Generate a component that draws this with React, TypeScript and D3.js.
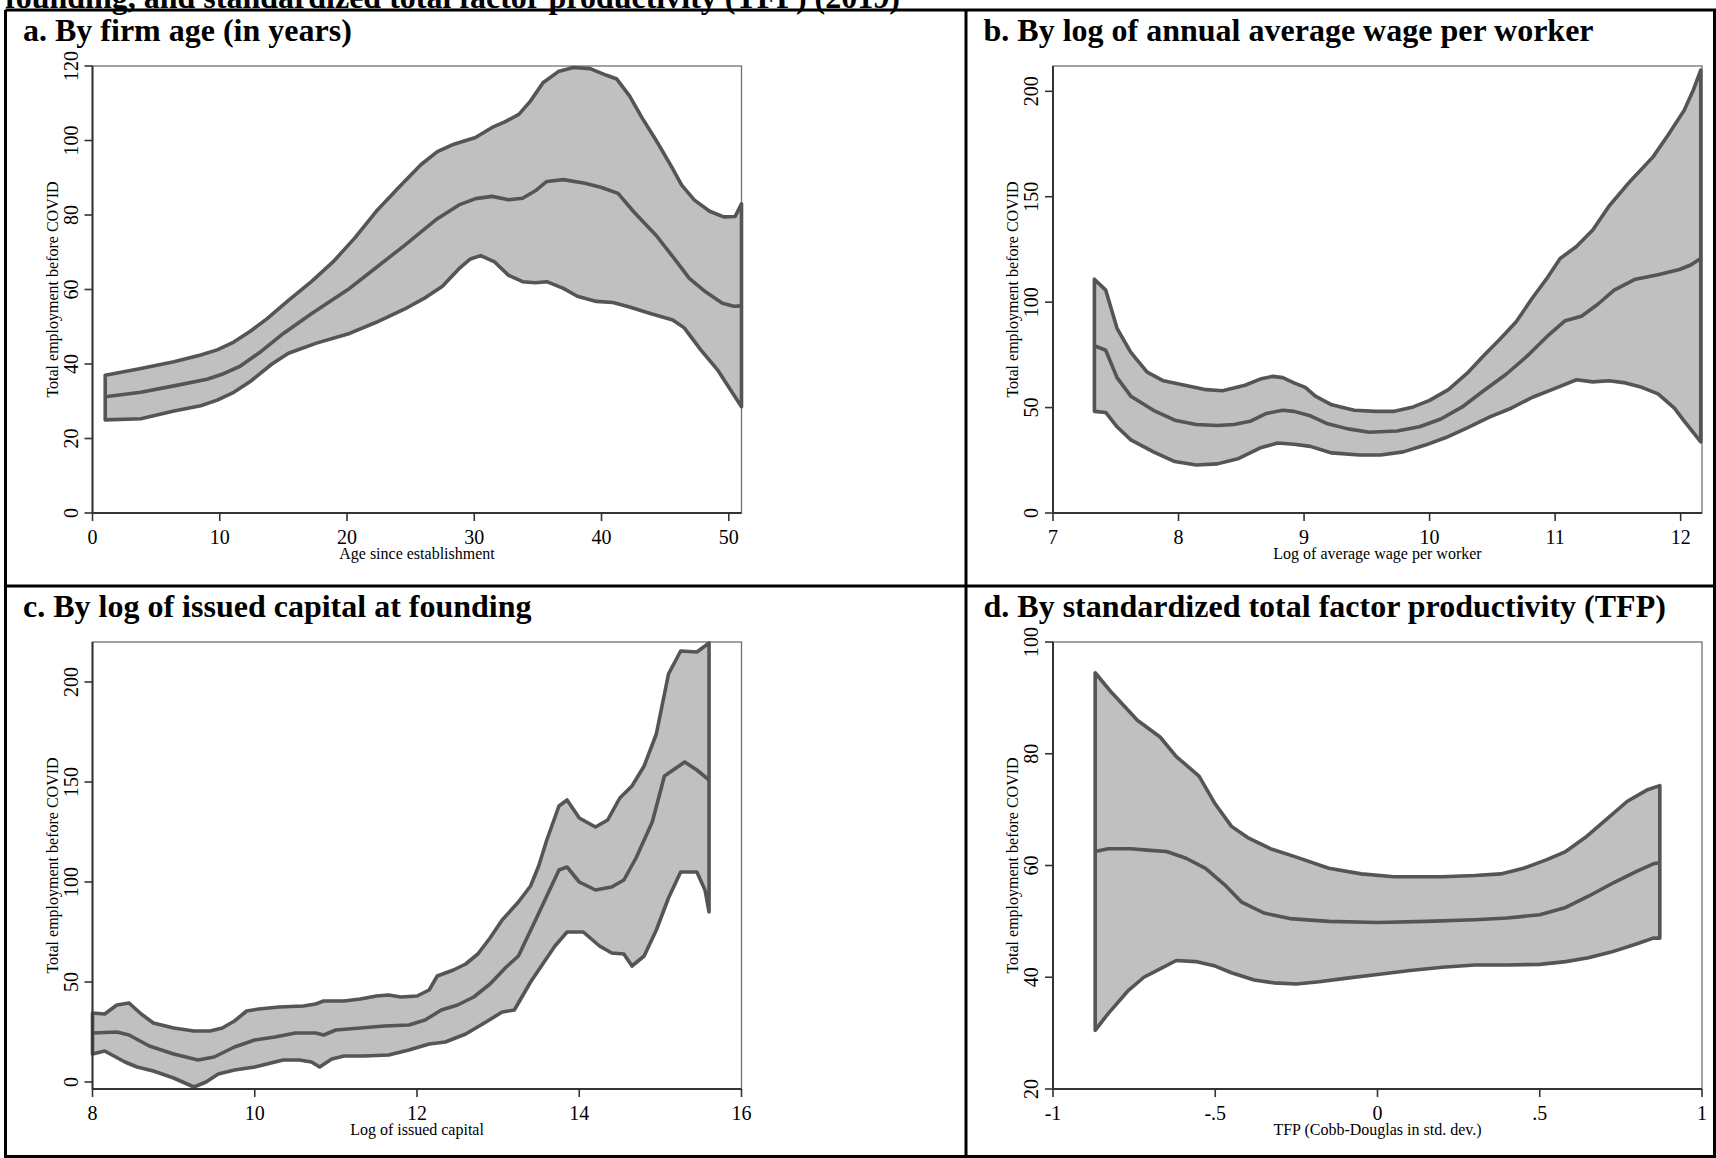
import React from 'react';
import * as d3 from 'd3';

type Pt = [number, number];

const topCaption = 'founding, and standardized total factor productivity (TFP) (2019)';
const yTitle = 'Total employment before COVID';

// ---- Panel a: firm age ----
const ageUpper: Pt[] = [[1,37],[3.8,38.8],[6.4,40.6],[8.5,42.4],[9.8,43.8],[11.1,45.9],[12.4,48.8],[13.7,52.1],[15.4,57.1],[17.2,62.1],[18.9,67.4],[20.6,73.8],[22.3,81],[24.1,87.5],[25.8,93.5],[27.1,97],[28.4,99],[30.1,100.8],[31.4,103.5],[32.4,105],[33.5,107],[34.4,110.5],[35.4,115.5],[36.6,118.5],[37.8,119.6],[39.1,119.3],[40.4,117.5],[41.2,116.5],[42.2,112],[43.2,106],[44.3,100],[45.5,93],[46.3,88],[47.3,84],[48.5,81],[49.6,79.5],[50.5,79.6],[51,83]];
const ageMid: Pt[] = [[1,31.2],[3.8,32.4],[6.8,34.4],[9,35.9],[10.3,37.4],[11.6,39.4],[13.3,43.5],[15,48.2],[17.2,53.5],[20.2,60.3],[22.3,65.9],[24.5,71.8],[27.1,79],[28.8,82.7],[30.1,84.4],[31.4,85],[32.7,84.1],[33.8,84.5],[34.8,86.5],[35.7,89],[37,89.5],[38.7,88.5],[40,87.4],[41.3,85.8],[42.6,80.6],[44.3,74.5],[45.6,68.8],[46.9,63],[48.2,59.3],[49.5,56.3],[50.4,55.5],[51,55.6]];
const ageLower: Pt[] = [[1,25],[3.8,25.3],[6.4,27.4],[8.5,28.8],[9.8,30.3],[11.1,32.4],[12.4,35.3],[14.1,40],[15.4,42.9],[17.6,45.6],[20.2,48.2],[22.3,51.2],[24.5,54.7],[26.2,57.9],[27.5,60.9],[28.8,65.6],[29.7,68.2],[30.5,69.1],[31.6,67.4],[32.7,63.8],[33.8,62.1],[34.8,61.8],[35.7,62.1],[37,60.3],[38.1,58.2],[39.6,56.8],[40.9,56.5],[42.2,55.3],[43.9,53.5],[45.6,51.8],[46.5,49.7],[47.8,43.8],[49.1,38.5],[51,28.5]];

// ---- Panel b: log wage ----
const wageUpper: Pt[] = [[7.33,110.9],[7.42,105.7],[7.51,87.6],[7.62,76.2],[7.75,66.8],[7.88,62.7],[8.05,60.6],[8.22,58.5],[8.35,58],[8.53,60.6],[8.66,63.7],[8.75,64.8],[8.83,64.2],[8.92,61.7],[9.01,59.6],[9.09,55.4],[9.22,51.3],[9.4,48.7],[9.57,48.2],[9.72,48.2],[9.87,50.3],[10,53.4],[10.15,58.5],[10.3,66.3],[10.43,74.6],[10.56,82.4],[10.69,90.7],[10.82,102.1],[10.93,110.9],[11.04,120.7],[11.17,126.4],[11.3,134.2],[11.43,145.6],[11.6,157.5],[11.78,168.9],[11.9,179.3],[12.03,191.2],[12.1,200.5],[12.16,210]];
const wageMid: Pt[] = [[7.33,79.3],[7.42,77.2],[7.51,64.2],[7.62,55.4],[7.8,48.7],[7.97,44],[8.14,42],[8.31,41.5],[8.44,42],[8.57,43.5],[8.7,47.2],[8.83,48.7],[8.92,48.2],[9.05,46.1],[9.18,42.5],[9.35,39.9],[9.52,38.3],[9.74,38.9],[9.92,40.9],[10.09,44.6],[10.26,50.3],[10.43,58],[10.61,65.8],[10.78,74.6],[10.95,84.5],[11.08,91.2],[11.21,93.3],[11.34,99],[11.47,105.7],[11.64,110.9],[11.82,113],[11.99,115.5],[12.08,117.6],[12.16,120.7]];
const wageLower: Pt[] = [[7.33,48.2],[7.42,47.7],[7.51,40.9],[7.62,34.7],[7.8,29],[7.97,24.4],[8.14,22.8],[8.31,23.3],[8.48,25.9],[8.66,31.1],[8.79,33.2],[8.92,32.6],[9.05,31.6],[9.22,28.5],[9.44,27.5],[9.61,27.5],[9.79,29],[9.96,32.1],[10.13,35.8],[10.3,40.4],[10.48,45.6],[10.65,49.7],[10.82,54.9],[11,59.1],[11.17,63.2],[11.3,62.2],[11.43,62.7],[11.56,61.7],[11.69,59.6],[11.82,56.5],[11.95,49.7],[12.03,43.5],[12.16,33.7]];

// ---- Panel c: log issued capital ----
const capUpper: Pt[] = [[8,34.5],[8.15,34],[8.3,38.5],[8.45,39.5],[8.6,34],[8.75,29.5],[9,27],[9.25,25.5],[9.45,25.5],[9.6,27],[9.75,30.5],[9.9,35.5],[10.05,36.5],[10.3,37.5],[10.6,38],[10.75,39],[10.85,40.5],[11.1,40.5],[11.3,41.5],[11.5,43],[11.65,43.5],[11.8,42.5],[12,43],[12.15,46],[12.25,53],[12.45,56],[12.6,59],[12.75,64],[12.9,72],[13.05,81],[13.25,90],[13.4,98],[13.5,108],[13.6,121],[13.75,138],[13.85,141],[14,132],[14.2,127.5],[14.35,131],[14.5,142],[14.65,148],[14.8,158],[14.95,174],[15.1,204],[15.25,215.5],[15.45,215],[15.6,219.5]];
const capMid: Pt[] = [[8,24.5],[8.3,25],[8.45,23.5],[8.7,18],[9,14],[9.3,11],[9.5,12.5],[9.75,17.5],[10,21],[10.25,22.5],[10.5,24.5],[10.75,24.5],[10.85,23.5],[11,26],[11.3,27],[11.6,28],[11.9,28.5],[12.1,31],[12.3,36],[12.5,38.5],[12.7,42.5],[12.9,49],[13.1,57.5],[13.25,63],[13.45,80],[13.6,93],[13.75,106],[13.85,107.5],[14,100],[14.2,96],[14.4,97.5],[14.55,101],[14.7,112],[14.9,130],[15.05,153],[15.3,160],[15.45,156],[15.6,151]];
const capLower: Pt[] = [[8,14],[8.15,15.5],[8.4,10],[8.55,7.5],[8.75,5.5],[9,2],[9.25,-2.5],[9.4,0],[9.55,4],[9.75,6],[10,7.5],[10.2,9.5],[10.35,11],[10.55,11],[10.7,10],[10.8,7.5],[10.95,11.5],[11.1,13],[11.35,13],[11.65,13.5],[11.9,16],[12.15,19],[12.35,20],[12.6,24],[12.85,30],[13.05,35],[13.2,36],[13.4,50],[13.55,59],[13.7,68],[13.85,75],[14.05,75],[14.25,68],[14.4,64.5],[14.55,64],[14.65,58],[14.8,63],[14.95,76],[15.1,92],[15.25,105],[15.45,105],[15.55,96],[15.6,85]];

// ---- Panel d: TFP ----
const tfpUpper: Pt[] = [[-0.87,94.5],[-0.82,91],[-0.74,86],[-0.67,83],[-0.62,79.5],[-0.55,76],[-0.5,71],[-0.45,67],[-0.4,65],[-0.33,63],[-0.25,61.5],[-0.15,59.5],[-0.05,58.5],[0.05,58],[0.2,58],[0.3,58.2],[0.38,58.5],[0.45,59.5],[0.52,61],[0.58,62.5],[0.64,65],[0.7,68],[0.77,71.5],[0.83,73.5],[0.87,74.3]];
const tfpMid: Pt[] = [[-0.87,62.5],[-0.83,63],[-0.76,63],[-0.7,62.7],[-0.65,62.5],[-0.59,61.3],[-0.53,59.5],[-0.47,56.5],[-0.42,53.5],[-0.35,51.5],[-0.27,50.5],[-0.15,50],[0,49.8],[0.15,50],[0.3,50.3],[0.4,50.6],[0.5,51.2],[0.58,52.5],[0.65,54.5],[0.73,57],[0.8,59],[0.85,60.3],[0.87,60.5]];
const tfpLower: Pt[] = [[-0.87,30.5],[-0.83,33.5],[-0.77,37.5],[-0.72,40],[-0.67,41.5],[-0.62,43],[-0.56,42.8],[-0.5,42],[-0.45,40.8],[-0.38,39.5],[-0.32,39],[-0.25,38.8],[-0.18,39.2],[-0.1,39.8],[0,40.5],[0.1,41.2],[0.2,41.8],[0.3,42.2],[0.4,42.2],[0.5,42.3],[0.58,42.8],[0.65,43.5],[0.72,44.5],[0.8,46],[0.85,47],[0.87,47]];

const ticksAgeX = [0, 10, 20, 30, 40, 50];
const ticksAgeY = [0, 20, 40, 60, 80, 100, 120];
const ticksWageX = [7, 8, 9, 10, 11, 12];
const ticksWageY = [0, 50, 100, 150, 200];
const ticksCapX = [8, 10, 12, 14, 16];
const ticksCapY = [0, 50, 100, 150, 200];
const ticksTfpX = [-1, -0.5, 0, 0.5, 1];
const ticksTfpY = [20, 40, 60, 80, 100];
const fmtStata = (v: number) => {
  const s = String(v);
  return s.replace(/^0\./, '.').replace(/^-0\./, '-.');
};

interface PanelProps {
  ox: number; oy: number;
  title: string; xTitle: string;
  xDomain: [number, number]; yDomain: [number, number];
  xTicks: number[]; yTicks: number[];
  upper: Pt[]; mid: Pt[]; lower: Pt[];
}

const FONT = '"Liberation Serif", "Times New Roman", Times, serif';
const BAND_FILL = '#c0c0c0';
const LINE = '#555555';

function Panel(p: PanelProps) {
  const left = p.ox + 87;
  const right = p.ox + 736;
  const top = p.oy + 56;
  const bottom = p.oy + 503;
  const x = d3.scaleLinear().domain(p.xDomain).range([left, right]);
  const y = d3.scaleLinear().domain(p.yDomain).range([bottom, top]);
  const line = d3.line<Pt>().x(d => x(d[0])).y(d => y(d[1])).curve(d3.curveLinear);
  const bandPts = [...p.upper, ...p.lower.slice().reverse()];
  const bandPath = (line(bandPts) || '') + 'Z';
  const midPath = line(p.mid) || '';
  return (
    <g>
      <text x={p.ox + 17.5} y={p.oy + 31} fontFamily={FONT} fontWeight="bold" fontSize={32} fill="#000">{p.title}</text>
      {/* frame */}
      <rect x={left} y={top} width={right - left} height={bottom - top} fill="none" stroke="#707070" strokeWidth={1.3} />
      {/* band */}
      <path d={bandPath} fill={BAND_FILL} stroke={LINE} strokeWidth={3.6} strokeLinejoin="round" />
      <path d={midPath} fill="none" stroke={LINE} strokeWidth={3.6} strokeLinejoin="round" />
      {/* axes */}
      <line x1={left} x2={left} y1={top} y2={bottom} stroke="#333" strokeWidth={2} />
      <line x1={left} x2={right} y1={bottom} y2={bottom} stroke="#333" strokeWidth={2} />
      {p.yTicks.map(t => (
        <g key={'y' + t}>
          <line x1={left - 8} x2={left} y1={y(t)} y2={y(t)} stroke="#333" strokeWidth={1.6} />
          <text transform={`translate(${p.ox + 72},${y(t)}) rotate(-90)`} textAnchor="middle" fontFamily={FONT} fontSize={20} fill="#000">{fmtStata(t)}</text>
        </g>
      ))}
      {p.xTicks.map(t => (
        <g key={'x' + t}>
          <line x1={x(t)} x2={x(t)} y1={bottom} y2={bottom + 8} stroke="#333" strokeWidth={1.6} />
          <text x={x(t)} y={bottom + 31} textAnchor="middle" fontFamily={FONT} fontSize={20} fill="#000">{fmtStata(t)}</text>
        </g>
      ))}
      <text x={(left + right) / 2} y={bottom + 46} textAnchor="middle" fontFamily={FONT} fontSize={16} fill="#000">{p.xTitle}</text>
      <text transform={`translate(${p.ox + 52},${(top + bottom) / 2}) rotate(-90)`} textAnchor="middle" fontFamily={FONT} fontSize={16} fill="#000">{yTitle}</text>
    </g>
  );
}

export default function App() {
  const W = 1716, H = 1158;
  return (
    <svg width={W} height={H} style={{ position: 'absolute', left: 0, top: 0, background: '#fff' }}>
      <rect x={0} y={0} width={W} height={H} fill="#fff" />
      <text x={5} y={8} fontFamily={FONT} fontWeight="bold" fontSize={32} fill="#000">{topCaption}</text>
      <Panel ox={5.5} oy={10} title="a. By firm age (in years)" xTitle="Age since establishment"
        xDomain={[0, 51]} yDomain={[0, 120]} xTicks={ticksAgeX} yTicks={ticksAgeY}
        upper={ageUpper} mid={ageMid} lower={ageLower} />
      <Panel ox={966} oy={10} title="b. By log of annual average wage per worker" xTitle="Log of average wage per worker"
        xDomain={[7, 12.17]} yDomain={[0, 212]} xTicks={ticksWageX} yTicks={ticksWageY}
        upper={wageUpper} mid={wageMid} lower={wageLower} />
      <Panel ox={5.5} oy={586} title="c. By log of issued capital at founding" xTitle="Log of issued capital"
        xDomain={[8, 16]} yDomain={[-3.5, 220]} xTicks={ticksCapX} yTicks={ticksCapY}
        upper={capUpper} mid={capMid} lower={capLower} />
      <Panel ox={966} oy={586} title="d. By standardized total factor productivity (TFP)" xTitle="TFP (Cobb-Douglas in std. dev.)"
        xDomain={[-1, 1]} yDomain={[20, 100]} xTicks={ticksTfpX} yTicks={ticksTfpY}
        upper={tfpUpper} mid={tfpMid} lower={tfpLower} />
      {/* panel borders */}
      <line x1={5.5} x2={5.5} y1={10} y2={H} stroke="#000" strokeWidth={3} />
      <line x1={5.5} x2={W} y1={10} y2={10} stroke="#000" strokeWidth={3} />
      <line x1={966} x2={966} y1={10} y2={H} stroke="#000" strokeWidth={3} />
      <line x1={5.5} x2={W} y1={586} y2={586} stroke="#000" strokeWidth={3} />
      <line x1={W - 1.5} x2={W - 1.5} y1={10} y2={H} stroke="#000" strokeWidth={3} />
      <line x1={5.5} x2={W} y1={H - 1.5} y2={H - 1.5} stroke="#000" strokeWidth={3} />
    </svg>
  );
}
